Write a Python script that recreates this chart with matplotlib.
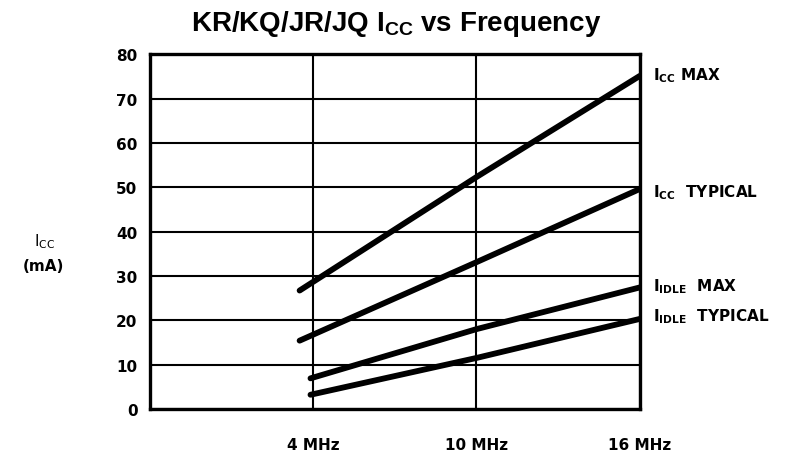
import matplotlib
matplotlib.use("Agg")
import matplotlib.pyplot as plt

plt.rcParams['font.family'] = ['DejaVu Sans']
plt.rcParams['mathtext.default'] = 'regular'

# --- data (x in MHz, y in mA) ---
freq_icc = [3.5, 10, 16]
icc_max = [26.7, 52.3, 75.1]
icc_typ = [15.4, 33.1, 49.6]

freq_idle = [3.9, 10, 16]
idle_max = [6.9, 18.0, 27.4]
idle_typ = [3.2, 11.5, 20.3]

curve_labels = [r'$I_{CC}$ MAX', r'$I_{CC}$  TYPICAL', r'$I_{IDLE}$  MAX', r'$I_{IDLE}$  TYPICAL']
xticks = [4, 10, 16]
xticklabels = ['4 MHz', '10 MHz', '16 MHz']
yticks = list(range(0, 81, 10))

fig = plt.figure(figsize=(7.85, 4.56), dpi=100)
ax = fig.add_axes([0.191, 0.101, 0.624, 0.778])

ax.plot(freq_icc, icc_max, color='black', lw=4.2, solid_capstyle='round', zorder=3)
ax.plot(freq_icc, icc_typ, color='black', lw=4.2, solid_capstyle='round', zorder=3)
ax.plot(freq_idle, idle_max, color='black', lw=4.2, solid_capstyle='round', zorder=3)
ax.plot(freq_idle, idle_typ, color='black', lw=4.2, solid_capstyle='round', zorder=3)

ax.set_xlim(-2, 16)
ax.set_ylim(0, 80)
ax.set_xticks(xticks)
ax.set_xticklabels(xticklabels, fontsize=11, fontweight='bold')
ax.set_yticks(yticks)
ax.set_yticklabels([str(v) for v in yticks], fontsize=11, fontweight='bold')
ax.tick_params(axis='both', length=0)
ax.tick_params(axis='x', pad=20)
ax.tick_params(axis='y', pad=9)

ax.grid(True, color='black', lw=1.5)
ax.set_axisbelow(True)
for s in ax.spines.values():
    s.set_linewidth(2.4)

# curve labels at the right end
ends = [icc_max[-1], icc_typ[-1], idle_max[-1], idle_typ[-1]]
offs = [0.3, -0.5, 0.4, 0.8]
for lab, yv, o in zip(curve_labels, ends, offs):
    ax.text(16.5, yv + o, lab, fontsize=11, fontweight='bold', va='center', ha='left')

fig.text(0.057, 0.47, r'$I_{CC}$', fontsize=11, ha='center', va='center')
fig.text(0.055, 0.415, '(mA)', fontsize=11, fontweight='bold', ha='center', va='center')

fig.text(0.505, 0.947, r'KR/KQ/JR/JQ $I_{CC}$ vs Frequency', fontsize=20,
         fontweight='bold', family='Liberation Sans', ha='center', va='center')

fig.savefig('out.png', dpi=100)
